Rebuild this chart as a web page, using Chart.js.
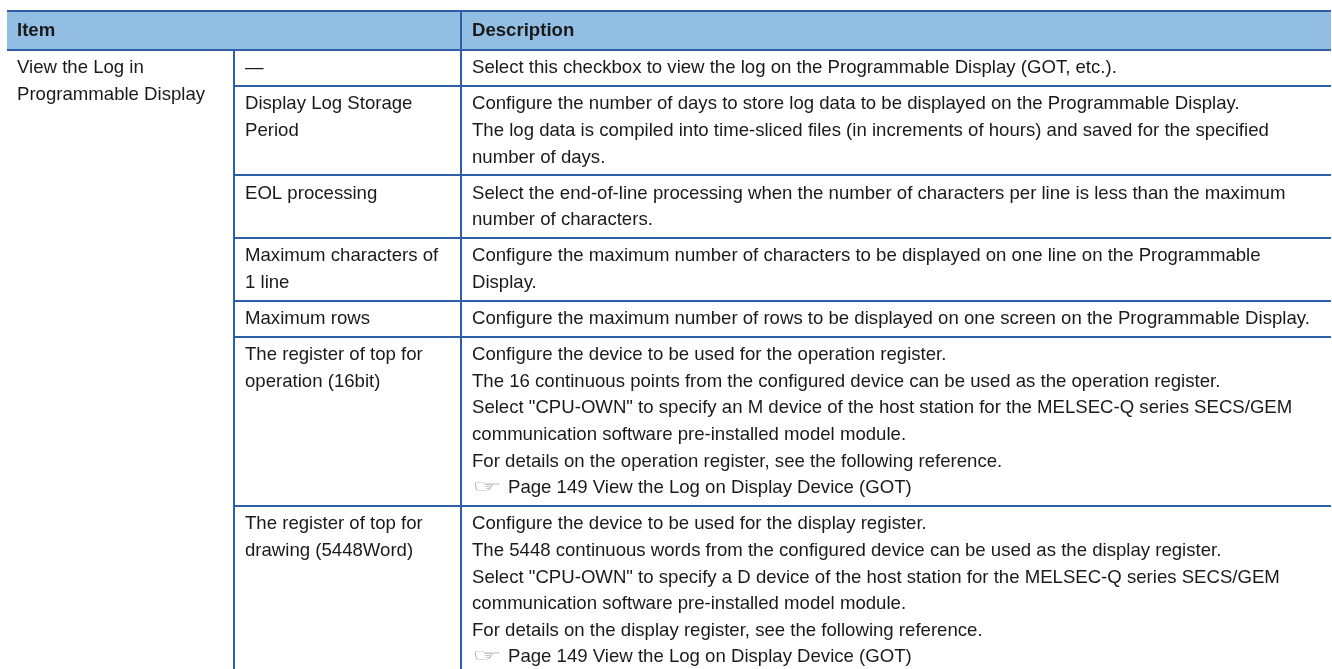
<!DOCTYPE html>
<html><head><meta charset="utf-8">
<script src="https://cdn.jsdelivr.net/npm/chart.js@4.4.1/dist/chart.umd.min.js"></script>
<style>html,body{margin:0;padding:0;background:#fff;overflow:hidden}</style>
</head><body>
<div style="width:1332px;height:669px;position:relative"><canvas id="c" width="1332" height="669" style="width:1332px;height:669px"></canvas></div>
<script>
// ---- table content ----
const headers = ['Item', 'Description'];
const groupLabel = ['View the Log in', 'Programmable Display'];
const items = [
  ['\u2014'],
  ['Display Log Storage', 'Period'],
  ['EOL processing'],
  ['Maximum characters of', '1 line'],
  ['Maximum rows'],
  ['The register of top for', 'operation (16bit)'],
  ['The register of top for', 'drawing (5448Word)']
];
const descriptions = [
  ['Select this checkbox to view the log on the Programmable Display (GOT, etc.).'],
  ['Configure the number of days to store log data to be displayed on the Programmable Display.',
   'The log data is compiled into time-sliced files (in increments of hours) and saved for the specified',
   'number of days.'],
  ['Select the end-of-line processing when the number of characters per line is less than the maximum',
   'number of characters.'],
  ['Configure the maximum number of characters to be displayed on one line on the Programmable',
   'Display.'],
  ['Configure the maximum number of rows to be displayed on one screen on the Programmable Display.'],
  ['Configure the device to be used for the operation register.',
   'The 16 continuous points from the configured device can be used as the operation register.',
   'Select "CPU-OWN" to specify an M device of the host station for the MELSEC-Q series SECS/GEM',
   'communication software pre-installed model module.',
   'For details on the operation register, see the following reference.',
   '\u261E Page 149 View the Log on Display Device (GOT)'],
  ['Configure the device to be used for the display register.',
   'The 5448 continuous words from the configured device can be used as the display register.',
   'Select "CPU-OWN" to specify a D device of the host station for the MELSEC-Q series SECS/GEM',
   'communication software pre-installed model module.',
   'For details on the display register, see the following reference.',
   '\u261E Page 149 View the Log on Display Device (GOT)']
];

// ---- layout (in scale units: x = px columns, y = text lines) ----
const LINE = 26.6;              // px per text line
const TOP = 11;                 // px above table
const HEADER_H = 39 / LINE;
const ROW_PAD = 9.5 / LINE;
const BASE_OFF = 23.3 / LINE;
const HEAD_BASE_OFF = 25 / LINE;
const COL_EDGES = [7, 234, 461, 1331];
const TEXT_INSET = [10, 11, 11];
const BORDER = '#2e5eaa';
const HEAD_BG = '#92bee3';
const TEXT = '#1a1a1a';
const FONT = '18.6px "Liberation Sans", Arial, sans-serif';
const FONT_B = 'bold 18.6px "Liberation Sans", Arial, sans-serif';

// row boundaries derived from line counts
const rowTops = [];
let acc = HEADER_H;
items.forEach((it, i) => {
  rowTops.push(acc);
  acc += Math.max(it.length, descriptions[i].length) + ROW_PAD;
});
rowTops.push(acc);

const tablePlugin = {
  id: 'tableDraw',
  afterDraw(chart) {
    const ctx = chart.ctx, xs = chart.scales.x, ys = chart.scales.y;
    const X = v => Math.round(xs.getPixelForValue(v));
    const Y = v => Math.round(ys.getPixelForValue(v));
    const bottom = Y(ys.max);
    ctx.save();
    // header background
    ctx.fillStyle = HEAD_BG;
    ctx.fillRect(X(COL_EDGES[0]), Y(0), X(COL_EDGES[3]) - X(COL_EDGES[0]), Y(HEADER_H) - Y(0));
    // borders
    ctx.strokeStyle = BORDER;
    ctx.lineWidth = 2;
    ctx.beginPath();
    [0, HEADER_H].forEach(v => { ctx.moveTo(X(COL_EDGES[0]), Y(v)); ctx.lineTo(X(COL_EDGES[3]), Y(v)); });
    rowTops.slice(1).forEach(v => { ctx.moveTo(X(COL_EDGES[1]) - 1, Y(v)); ctx.lineTo(X(COL_EDGES[3]), Y(v)); });
    ctx.moveTo(X(COL_EDGES[1]), Y(HEADER_H)); ctx.lineTo(X(COL_EDGES[1]), bottom);
    ctx.moveTo(X(COL_EDGES[2]), Y(0)); ctx.lineTo(X(COL_EDGES[2]), bottom);
    ctx.stroke();
    // header text
    ctx.fillStyle = TEXT;
    ctx.textBaseline = 'alphabetic';
    ctx.font = FONT_B;
    ctx.fillText(headers[0], X(COL_EDGES[0] + TEXT_INSET[0]), ys.getPixelForValue(HEAD_BASE_OFF));
    ctx.fillText(headers[1], X(COL_EDGES[2] + TEXT_INSET[2]), ys.getPixelForValue(HEAD_BASE_OFF));
    // body text
    ctx.font = FONT;
    groupLabel.forEach((t, j) => ctx.fillText(t, X(COL_EDGES[0] + TEXT_INSET[0]), ys.getPixelForValue(rowTops[0] + BASE_OFF + j)));
    items.forEach((lines, i) => {
      lines.forEach((t, j) => ctx.fillText(t, X(COL_EDGES[1] + TEXT_INSET[1]), ys.getPixelForValue(rowTops[i] + BASE_OFF + j)));
      descriptions[i].forEach((t, j) => {
        const x = X(COL_EDGES[2] + TEXT_INSET[2]);
        const y = ys.getPixelForValue(rowTops[i] + BASE_OFF + j);
        if (t.startsWith('\u261E')) {
          ctx.save();
          ctx.font = '19px "DejaVu Sans"';
          const w = ctx.measureText('\u261E').width;
          ctx.fillStyle = '#8a8a8a';
          ctx.translate(x, y);
          ctx.scale(30 / w, 0.9);
          ctx.fillText('\u261E', 0, -1);
          ctx.restore();
          ctx.fillText(t.slice(2), x + 36, y);
        } else {
          ctx.fillText(t, x, y);
        }
      });
    });
    ctx.restore();
  }
};

new Chart(document.getElementById('c'), {
  type: 'scatter',
  data: { datasets: [{ data: [] }] },
  options: {
    responsive: false,
    animation: false,
    events: [],
    layout: { padding: 0 },
    plugins: { legend: { display: false }, tooltip: { enabled: false } },
    scales: {
      x: { type: 'linear', display: false, min: 0, max: 1332 },
      y: { type: 'linear', display: false, reverse: true, min: -TOP / LINE, max: (669 - TOP) / LINE }
    }
  },
  plugins: [tablePlugin]
});
</script>
</body></html>
